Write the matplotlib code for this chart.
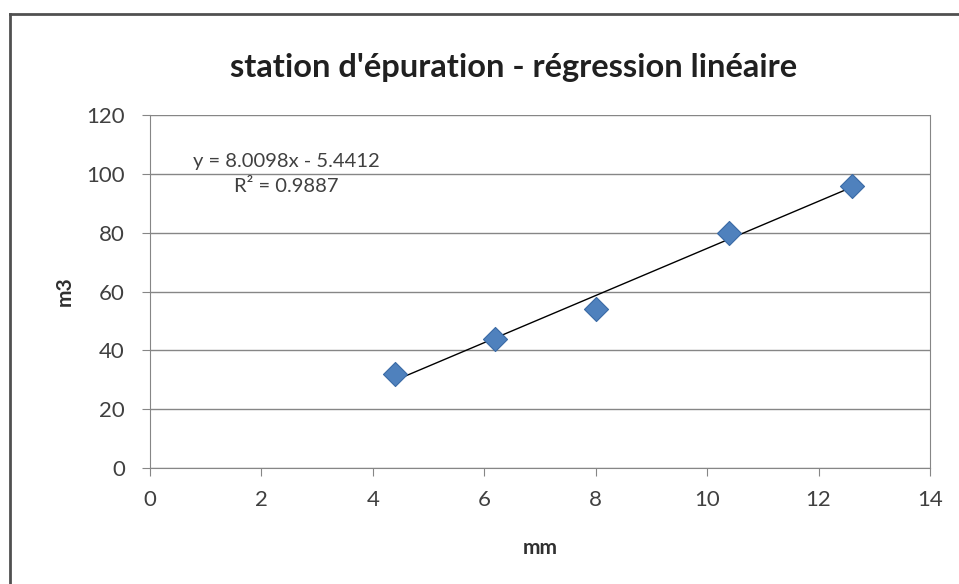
import matplotlib
matplotlib.use("Agg")
import matplotlib.pyplot as plt
from matplotlib.lines import Line2D
import numpy as np

# data
mm = [4.4, 6.2, 8.0, 10.4, 12.6]
m3 = [32, 44, 54, 80, 96]
x_ticks = [0, 2, 4, 6, 8, 10, 12, 14]
y_ticks = [0, 20, 40, 60, 80, 100, 120]

title = "station d'épuration - régression linéaire"
eq_text = "y = 8.0098x - 5.4412\nR² = 0.9887"

plt.rcParams["font.family"] = ["Lato", "DejaVu Sans"]

fig = plt.figure(figsize=(9.59, 5.84), dpi=100)
ax = fig.add_axes([150 / 959, 1 - 468 / 584, 780 / 959, 353 / 584])

# trendline from least squares fit
slope, intercept = np.polyfit(mm, m3, 1)
xs = np.array([min(mm), max(mm)])
ax.plot(xs, slope * xs + intercept, color="black", lw=1, zorder=2)

ax.scatter(mm, m3, marker="D", s=150, color="#4F81BD", edgecolor="#3A6AA5",
           linewidth=0.8, zorder=3)

ax.set_xlim(0, 14)
ax.set_ylim(0, 120)
ax.set_xticks(x_ticks)
ax.set_yticks(y_ticks)
ax.tick_params(axis="both", labelsize=16, colors="#868686", labelcolor="#404040",
               length=6, direction="out")
ax.tick_params(axis="y", pad=12)
ax.tick_params(axis="x", pad=10)
ax.grid(axis="y", color="#868686", lw=1)
ax.set_axisbelow(True)
for side in ["left", "bottom", "right"]:
    ax.spines[side].set_color("#868686")
ax.spines["top"].set_visible(False)

ax.set_xlabel("mm", fontsize=15, fontweight="bold", color="#303030")
ax.set_ylabel("m3", fontsize=15, fontweight="bold", color="#303030")
ax.xaxis.set_label_coords(0.5, -0.198)
ax.yaxis.set_label_coords(-0.097, 0.5)

ax.text(2.45, 100, eq_text, ha="center", va="center", fontsize=14.5,
        color="#404040", linespacing=1.55)

fig.text(514 / 959, 1 - 68 / 584, title, ha="center", va="center",
         fontsize=23.5, fontweight="bold", color="#202020")

# outer chart frame (left and top edges)
fig.add_artist(Line2D([10 / 959, 10 / 959], [0, 1 - 14 / 584],
                      transform=fig.transFigure, color="#505050", lw=2))
fig.add_artist(Line2D([10 / 959, 1], [1 - 14 / 584, 1 - 14 / 584],
                      transform=fig.transFigure, color="#505050", lw=2))

fig.savefig("out.png", dpi=100)
